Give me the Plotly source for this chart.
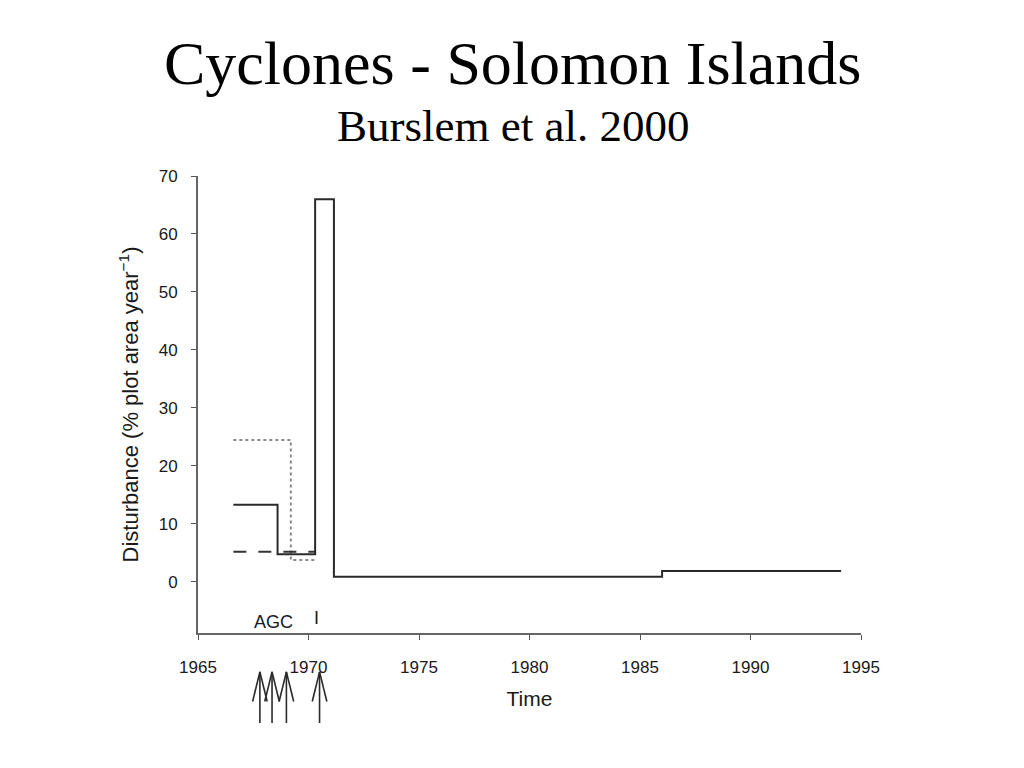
import plotly.graph_objects as go

# Data
solid_x = [1966.6, 1968.6, 1970.3, 1971.15, 1986.0, 1994.1]
solid_y = [13.3, 4.8, 66.0, 0.9, 1.9, 1.9]
dashed_x = [1966.6, 1970.3]
dashed_y = [5.2, 5.2]
dotted_x = [1966.6, 1969.2, 1970.4]
dotted_y = [24.5, 3.8, 3.8]
cyclone_years = [1967.8, 1968.35, 1969.0, 1970.5]
x_ticks = [1965, 1970, 1975, 1980, 1985, 1990, 1995]
y_ticks = [0, 10, 20, 30, 40, 50, 60, 70]

fig = go.Figure()
fig.add_trace(go.Scatter(x=dotted_x, y=dotted_y, mode="lines", line_shape="hv",
                         line=dict(color="#8a8a8a", width=2, dash="dot"), hoverinfo="skip"))
fig.add_trace(go.Scatter(x=dashed_x, y=dashed_y, mode="lines", line_shape="hv",
                         line=dict(color="#333333", width=2, dash="13px,12px"), hoverinfo="skip"))
fig.add_trace(go.Scatter(x=solid_x, y=solid_y, mode="lines", line_shape="hv",
                         line=dict(color="#2a2a2a", width=2), hoverinfo="skip"))

# Cyclone arrows below the axis
tip, wing, bottom, half = -0.085, -0.150, -0.197, 0.33
shapes = []
for yr in cyclone_years:
    ln = dict(color="#2a2a2a", width=1.6)
    shapes.append(dict(type="line", xref="x", yref="paper", x0=yr, x1=yr, y0=tip, y1=bottom, line=ln))
    shapes.append(dict(type="line", xref="x", yref="paper", x0=yr, x1=yr - half, y0=tip, y1=wing, line=ln))
    shapes.append(dict(type="line", xref="x", yref="paper", x0=yr, x1=yr + half, y0=tip, y1=wing, line=ln))

H = 457.0
fig.update_layout(
    width=1024, height=768,
    paper_bgcolor="white", plot_bgcolor="white",
    margin=dict(l=190, r=171, t=168, b=143),
    showlegend=False,
    shapes=shapes,
    font=dict(family="Liberation Sans, Arial", color="#1a1a1a"),
    annotations=[
        dict(text="Cyclones - Solomon Islands", xref="paper", yref="paper", x=0.475, y=(176 - 63) / H + 1,
             xanchor="center", yanchor="middle", showarrow=False,
             font=dict(family="Liberation Serif, Times New Roman", size=62, color="black")),
        dict(text="Burslem et al. 2000", xref="paper", yref="paper", x=0.475, y=(176 - 126) / H + 1,
             xanchor="center", yanchor="middle", showarrow=False,
             font=dict(family="Liberation Serif, Times New Roman", size=45, color="black")),
        dict(text="AGC", xref="x", yref="paper", x=1968.4, y=0.024, xanchor="center", yanchor="middle",
             showarrow=False, font=dict(size=18, color="#1a1a1a")),
        dict(text="I", xref="x", yref="paper", x=1970.35, y=0.033, xanchor="center", yanchor="middle",
             showarrow=False, font=dict(size=18, color="#1a1a1a")),
    ],
)
fig.update_xaxes(range=[1965, 1995], tickvals=x_ticks, ticks="outside", ticklen=5, tickcolor="#555",
                 showline=True, linecolor="#666", linewidth=2, showgrid=False, zeroline=False,
                 ticklabelstandoff=13, tickfont=dict(size=17),
                 title=dict(text="Time", font=dict(size=21), standoff=15))
fig.update_yaxes(range=[-8.8, 70], tickvals=y_ticks, ticks="outside", ticklen=5, tickcolor="#555",
                 showline=True, linecolor="#666", linewidth=2, showgrid=False, zeroline=False,
                 ticklabelstandoff=10, tickfont=dict(size=17),
                 title=dict(text="Disturbance (% plot area year<sup>−1</sup>)", font=dict(size=22), standoff=14))

fig.write_html("out.html")
